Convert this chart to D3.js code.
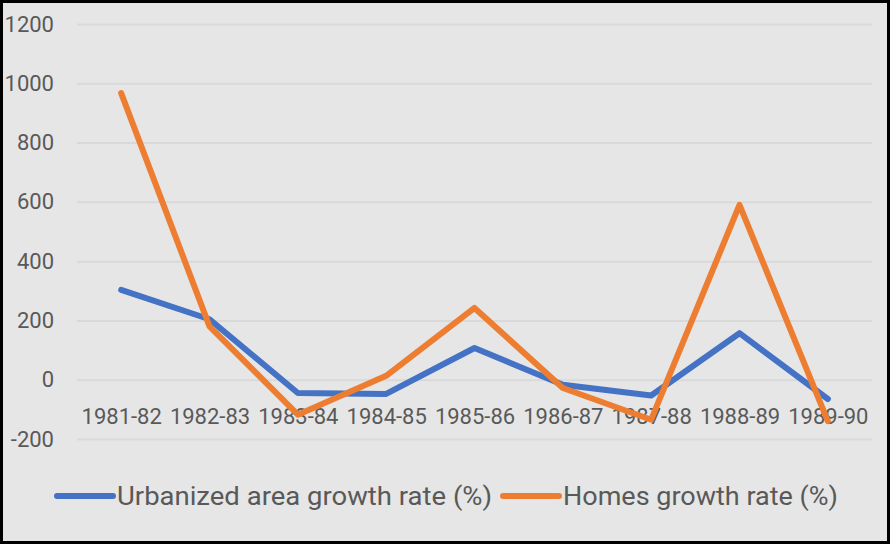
<html>
<script src='https://d3js.org/d3.v7.min.js'></script>
<head>
    <style>
        body { margin: 0; background: #fff; }
        svg { display: block; }
        text { font-family: Roboto, sans-serif; fill: #595959; }
    </style>
</head>
<body>
<svg width=890 height=544></svg>
<script>
// chart values
var periods = ["1981-82", "1982-83", "1983-84", "1984-85", "1985-86", "1986-87", "1987-88", "1988-89", "1989-90"];
var urbanized = [303, 204, -45, -48, 107, -17, -53, 157, -65];
var homes = [967, 180, -118, 13, 242, -28, -135, 590, -140];
var yTicks = [-200, 0, 200, 400, 600, 800, 1000, 1200];
var seriesNames = ["Urbanized area growth rate (%)", "Homes growth rate (%)"];
var seriesColors = ["#4472C4", "#ED7D31"];

var w = 890, h = 544;
var plotLeft = 77, plotRight = 872, plotTop = 24, plotBottom = 439;

var svg = d3.select('svg');

// background and frame
svg.append("rect")
    .attr("x", 1.5).attr("y", 1.5)
    .attr("width", w - 3).attr("height", h - 3)
    .style("fill", "#e6e6e6")
    .style("stroke", "#000")
    .style("stroke-width", 3);

var xs = d3.scalePoint()
    .domain(periods)
    .range([plotLeft, plotRight])
    .padding(0.5);

var ys = d3.scaleLinear()
    .domain([-200, 1200])
    .range([plotBottom, plotTop]);

// gridlines + y labels
var yAxis = svg.append("g")
    .attr("transform", "translate(" + plotLeft + ",0)")
    .call(d3.axisLeft(ys)
        .tickValues(yTicks)
        .tickFormat(function(d) { return d < 0 ? "-" + Math.abs(d) : String(d); })
        .tickSize(-(plotRight - plotLeft))
        .tickPadding(23));
yAxis.select(".domain").remove();
yAxis.selectAll("line").style("stroke", "#d9d9d9").style("stroke-width", 2);
yAxis.selectAll("text")
    .style("font-size", "22px")
    .style("font-family", "Roboto, sans-serif")
    .style("fill", "#595959");

// category labels sit just under the zero line
var xAxis = svg.append("g")
    .attr("transform", "translate(0," + ys(0) + ")")
    .call(d3.axisBottom(xs).tickSize(0).tickPadding(29));
xAxis.select(".domain").remove();
xAxis.selectAll("text")
    .style("font-size", "22px")
    .style("font-family", "Roboto, sans-serif")
    .style("fill", "#595959");

var line = d3.line()
    .x(function(d, i) { return xs(periods[i]); })
    .y(function(d) { return ys(d); });

[urbanized, homes].forEach(function(values, k) {
    svg.append("path")
        .datum(values)
        .attr("d", line)
        .style("fill", "none")
        .style("stroke", seriesColors[k])
        .style("stroke-width", 6)
        .style("stroke-linecap", "round")
        .style("stroke-linejoin", "round");
});

// legend
var legendX = [57, 503];
var legendWidths = [375, 275];
var legend = svg.append("g");
seriesNames.forEach(function(name, k) {
    legend.append("line")
        .attr("x1", legendX[k]).attr("x2", legendX[k] + 56)
        .attr("y1", 496).attr("y2", 496)
        .style("stroke", seriesColors[k])
        .style("stroke-width", 6)
        .style("stroke-linecap", "round");
    legend.append("text")
        .attr("x", legendX[k] + 60)
        .attr("y", 496)
        .attr("dy", "0.35em")
        .attr("textLength", legendWidths[k])
        .attr("lengthAdjust", "spacingAndGlyphs")
        .style("font-size", "25px")
        .text(name);
});
</script>
</body>
</html>
